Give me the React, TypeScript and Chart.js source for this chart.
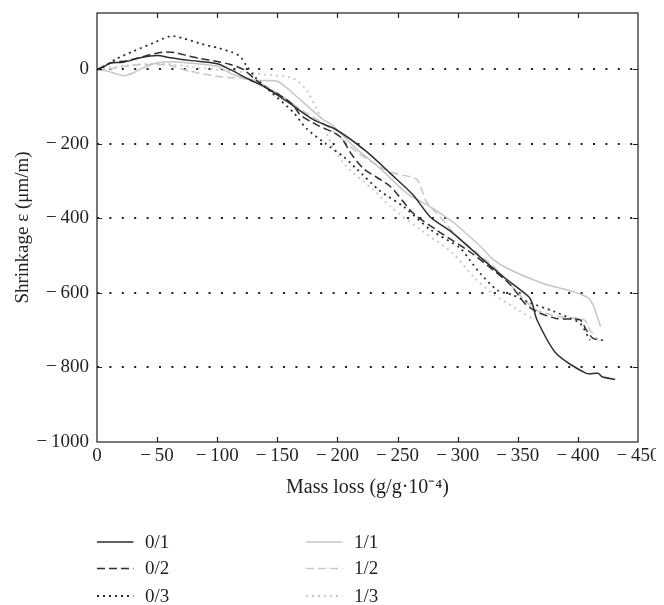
import React, { useEffect, useRef } from "react";
import { Chart, registerables } from "chart.js";

Chart.register(...registerables);

// ---- data (mass loss in g/g·10^-4, shrinkage in µm/m) ----
const series01: [number, number][] = [
  [0, -2], [-5, 5], [-11, 16], [-22, 18], [-36, 30], [-50, 36], [-61, 30], [-77, 23], [-100, 14],
  [-111, -2], [-127, -29], [-141, -51], [-158, -87], [-180, -136], [-199, -163], [-224, -221],
  [-244, -280], [-263, -338], [-277, -396], [-296, -440], [-319, -505], [-338, -557], [-359, -610],
  [-362, -628], [-366, -673], [-382, -763], [-407, -816], [-417, -816], [-420, -825], [-431, -832],
];
const series02: [number, number][] = [
  [0, -2], [-11, 16], [-25, 22], [-44, 38], [-55, 45], [-65, 44], [-77, 34], [-86, 28], [-100, 20],
  [-111, 12], [-122, -2], [-138, -45], [-152, -70], [-163, -96], [-169, -123], [-183, -150],
  [-202, -181], [-212, -230], [-222, -268], [-244, -315], [-263, -387], [-283, -433], [-310, -490],
  [-330, -540], [-344, -579], [-356, -629], [-366, -651], [-382, -669], [-402, -673], [-407, -700],
  [-413, -723], [-421, -727],
];
const series03: [number, number][] = [
  [0, -2], [-8, 10], [-16, 27], [-30, 47], [-47, 70], [-61, 88], [-72, 82], [-86, 68], [-101, 56],
  [-112, 45], [-119, 34], [-124, 10], [-131, -20], [-144, -60], [-163, -115], [-174, -159],
  [-190, -200], [-205, -235], [-216, -268], [-235, -326], [-255, -369], [-277, -430], [-302, -480],
  [-310, -512], [-319, -549], [-333, -593], [-346, -606], [-358, -624], [-380, -650], [-394, -669],
  [-402, -682], [-410, -727],
];
const series11: [number, number][] = [
  [0, -2], [-8, -5], [-14, -11], [-22, -18], [-30, -11], [-38, 3], [-50, 16], [-61, 19], [-77, 16],
  [-100, 7], [-113, -15], [-133, -30], [-150, -33], [-163, -65], [-177, -105], [-188, -135],
  [-197, -154], [-208, -190], [-216, -215], [-235, -265], [-258, -334], [-277, -369], [-297, -413],
  [-319, -476], [-330, -512], [-344, -539], [-371, -575], [-409, -615], [-419, -691],
];
const series12: [number, number][] = [
  [0, -2], [-10, 0], [-30, 10], [-50, 12], [-60, 10], [-77, -6], [-105, -22], [-122, -26],
  [-140, -45], [-155, -75], [-170, -110], [-190, -150], [-216, -222], [-235, -262], [-249, -281],
  [-266, -296], [-274, -356], [-285, -395], [-300, -450], [-330, -530], [-350, -600], [-365, -645],
  [-385, -665], [-405, -672], [-410, -700], [-417, -727],
];
const series13: [number, number][] = [
  [0, -2], [-15, 5], [-35, 12], [-55, 15], [-80, 5], [-100, -2], [-120, -8], [-140, -15],
  [-160, -22], [-168, -35], [-175, -60], [-181, -96], [-187, -135], [-192, -180], [-200, -230],
  [-210, -270], [-230, -324], [-244, -369], [-269, -431], [-296, -494], [-313, -557], [-330, -605],
  [-350, -645], [-364, -673],
];

const seriesLabels = ["0/1", "0/2", "0/3", "1/1", "1/2", "1/3"];
const xTicks = [0, -50, -100, -150, -200, -250, -300, -350, -400, -450];
const yTicks = [-1000, -800, -600, -400, -200, 0];
const xTitle = "Mass loss (g/g·10⁻⁴)";
const yTitle = "Shrinkage ε (μm/m)";

const FONT = '"Liberation Serif", "Times New Roman", serif';
const TEXT = "#231f20";
const DARK = "#2e2e2e";
const LIGHT = "#c6c6c6";

const fmt = (v: number) => (v === 0 ? "0" : "\u2212\u2009" + Math.abs(v));

const framePlugin = {
  id: "frame",
  afterDatasetsDraw(chart: any) {
    const { ctx, chartArea, scales } = chart;
    const { left, right, top, bottom } = chartArea;
    ctx.save();
    ctx.setLineDash([]);
    ctx.strokeStyle = TEXT;
    ctx.lineWidth = 1.2;
    ctx.strokeRect(left, top, right - left, bottom - top);
    const tl = 5;
    ctx.beginPath();
    xTicks.forEach((v, i) => {
      if (i === 0 || i === xTicks.length - 1) return;
      const px = Math.round(scales.x.getPixelForValue(v)) + 0.5;
      ctx.moveTo(px, bottom);
      ctx.lineTo(px, bottom - tl);
      ctx.moveTo(px, top);
      ctx.lineTo(px, top + tl);
    });
    yTicks.forEach((v, i) => {
      if (i === 0) return;
      const py = Math.round(scales.y.getPixelForValue(v)) + 0.5;
      ctx.moveTo(left, py);
      ctx.lineTo(left + tl, py);
      ctx.moveTo(right, py);
      ctx.lineTo(right - tl, py);
    });
    ctx.stroke();
    ctx.restore();
  },
};

const legendPlugin = {
  id: "customLegend",
  afterDraw(chart: any) {
    const { ctx } = chart;
    const colX = [89, 298];
    const rowY = [534, 560.5, 588];
    const lineLen = 36.5;
    ctx.save();
    chart.data.datasets.forEach((ds: any, i: number) => {
      const col = i < 3 ? 0 : 1;
      const row = i % 3;
      const x = colX[col];
      const y = rowY[row];
      ctx.strokeStyle = ds.borderColor;
      ctx.lineWidth = ds.borderWidth;
      ctx.setLineDash(ds.borderDash || []);
      ctx.beginPath();
      ctx.moveTo(x, y);
      ctx.lineTo(x + lineLen, y);
      ctx.stroke();
      ctx.setLineDash([]);
      ctx.fillStyle = TEXT;
      ctx.font = `19px ${FONT}`;
      ctx.textAlign = "left";
      ctx.textBaseline = "middle";
      ctx.fillText(ds.label, x + 48, y + 1);
    });
    ctx.restore();
  },
};

export default function App() {
  const ref = useRef<HTMLCanvasElement | null>(null);

  useEffect(() => {
    document.documentElement.style.overflow = "hidden";
    if (!ref.current) return;
    const all = [series01, series02, series03, series11, series12, series13];
    const colors = [DARK, DARK, DARK, LIGHT, LIGHT, LIGHT];
    const dashes = [[], [8, 4], [2, 4], [], [8, 4], [2, 4]];
    const widths = [1.5, 1.5, 1.8, 1.5, 1.5, 1.8];
    const chart = new Chart(ref.current, {
      type: "line",
      data: {
        datasets: all.map((s, i) => ({
          label: seriesLabels[i],
          data: s.map(([x, y]) => ({ x, y })),
          borderColor: colors[i],
          backgroundColor: colors[i],
          borderWidth: widths[i],
          borderDash: dashes[i],
          pointRadius: 0,
          tension: 0.25,
          fill: false,
        })),
      },
      options: {
        animation: false,
        responsive: false,
        devicePixelRatio: 1,
        layout: { padding: { left: 0, top: 5, right: 26, bottom: 93 } },
        plugins: { legend: { display: false }, tooltip: { enabled: false } },
        font: { family: FONT },
        scales: {
          x: {
            type: "linear",
            min: -450,
            max: 0,
            reverse: true,
            afterBuildTicks: (s: any) => {
              s.ticks = xTicks.map((v) => ({ value: v }));
            },
            afterFit: (s: any) => {
              s.height = 70;
              s.paddingLeft = 0;
              s.paddingRight = 0;
            },
            grid: { display: false, drawTicks: false },
            border: { display: false },
            ticks: {
              color: TEXT,
              font: { family: FONT, size: 19 },
              padding: 3,
              maxRotation: 0,
              autoSkip: false,
              callback: (v: any) => fmt(Number(v)),
            },
            title: {
              display: true,
              text: xTitle,
              color: TEXT,
              font: { family: FONT, size: 20 },
              padding: { top: 0, bottom: 12 },
            },
          },
          y: {
            type: "linear",
            min: -1000,
            max: 150,
            afterBuildTicks: (s: any) => {
              s.ticks = yTicks.map((v) => ({ value: v }));
            },
            afterFit: (s: any) => {
              s.width = 89;
              s.paddingTop = 0;
              s.paddingBottom = 0;
            },
            grid: {
              drawTicks: false,
              color: (c: any) => (c.tick && c.tick.value === -1000 ? "rgba(0,0,0,0)" : "#1e1e1e"),
              lineWidth: 2,
            },
            border: { display: false, dash: [2, 10.4] },
            ticks: {
              color: TEXT,
              font: { family: FONT, size: 19 },
              padding: 8,
              autoSkip: false,
              callback: (v: any) => fmt(Number(v)),
            },
            title: {
              display: true,
              text: yTitle,
              color: TEXT,
              font: { family: FONT, size: 19 },
              padding: { top: 4, bottom: 0 },
            },
          },
        },
      } as any,
      plugins: [framePlugin, legendPlugin],
    });
    return () => chart.destroy();
  }, []);

  return (
    <div style={{ width: 656, height: 597 }}>
      <canvas ref={ref} width={656} height={597} style={{ display: "block", width: 656, height: 597 }} />
    </div>
  );
}
